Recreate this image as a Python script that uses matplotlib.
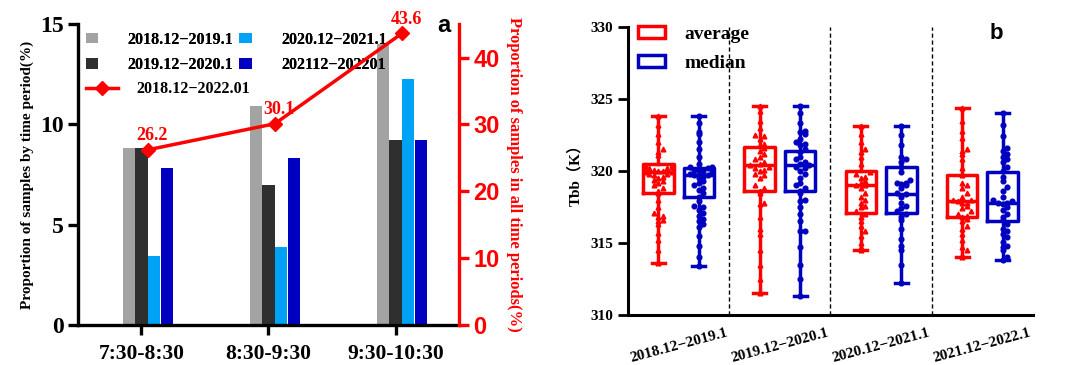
import numpy as np
import matplotlib
matplotlib.use("Agg")
import matplotlib.pyplot as plt
from matplotlib.patches import Patch
from matplotlib.lines import Line2D

plt.rcParams['font.family'] = ['Liberation Serif', 'Noto Sans CJK SC']
plt.rcParams['font.weight'] = 'bold'
plt.rcParams['axes.labelweight'] = 'bold'

# ---- panel a data ----
periods = ['7:30-8:30', '8:30-9:30', '9:30-10:30']
bar_names = ['2018.12−2019.1', '2019.12−2020.1', '2020.12−2021.1', '202112−202201']
p_1819 = [8.8, 10.9, 14.0]
p_1920 = [8.8, 7.0, 9.2]
p_2021 = [3.45, 3.9, 12.25]
p_2122 = [7.85, 8.3, 9.2]
all_name = '2018.12−2022.01'
all_periods = [26.2, 30.1, 43.6]

# ---- panel b data ----
years = ['2018.12−2019.1', '2019.12−2020.1', '2020.12−2021.1', '2021.12−2022.1']
# box stats: min, q1, median, q3, max
avg_min = [313.6, 311.5, 314.5, 314.0]
avg_q1 = [318.5, 318.6, 317.1, 316.8]
avg_med = [319.9, 320.4, 319.0, 317.9]
avg_q3 = [320.5, 321.7, 320.0, 319.7]
avg_max = [323.8, 324.5, 323.1, 324.4]
med_min = [313.4, 311.3, 312.2, 313.8]
med_q1 = [318.2, 318.6, 317.1, 316.5]
med_med = [319.7, 320.4, 318.4, 317.8]
med_q3 = [320.2, 321.4, 320.3, 319.9]
med_max = [323.8, 324.5, 323.1, 324.0]

avg_pts = [
    [323.8, 323.2, 322.6, 322.0, 321.5, 321.3, 321.1, 320.4, 320.4, 320.3, 320.3, 320.2, 320.2, 320.1,
     320.0, 320.0, 319.9, 319.9, 319.8, 319.8, 319.7, 319.6, 319.5, 319.4, 319.3, 319.2, 319.0, 318.8,
     318.6, 318.5, 318.0, 317.5, 317.1, 316.9, 316.8, 316.6, 316.5, 316.3, 315.7, 315.2, 314.5, 313.6],
    [324.5, 324.2, 323.5, 323.0, 322.5, 322.4, 322.2, 321.9, 321.8, 321.6, 321.4, 321.2, 321.0, 320.8,
     320.6, 320.5, 320.4, 320.3, 320.2, 320.1, 320.0, 319.8, 319.7, 319.5, 319.0, 318.8, 318.6, 318.5,
     317.8, 317.7, 316.8, 316.0, 315.6, 314.5, 313.5, 312.5, 311.5],
    [323.1, 322.6, 322.0, 321.5, 321.3, 321.0, 320.5, 319.9, 319.8, 319.6, 319.5, 319.3, 319.2, 319.0,
     319.0, 318.8, 318.5, 318.2, 318.0, 317.8, 317.6, 317.5, 317.2, 317.0, 316.8, 316.5, 316.2, 315.8,
     315.5, 315.0, 314.7, 314.5],
    [324.4, 323.5, 322.8, 322.3, 321.5, 321.4, 321.2, 320.8, 320.2, 319.7, 319.2, 319.0, 318.8, 318.5,
     318.2, 318.0, 318.0, 317.9, 317.8, 317.8, 317.6, 317.4, 317.2, 317.0, 316.9, 316.8, 316.7, 316.5,
     316.2, 316.0, 315.6, 315.2, 314.7, 314.5, 314.2, 314.0],
]
med_pts = [
    [323.8, 323.3, 322.7, 322.6, 322.0, 321.5, 321.0, 320.5, 320.3, 320.3, 320.2, 320.1, 320.0, 320.0,
     319.9, 319.8, 319.7, 319.7, 319.6, 319.5, 319.3, 319.2, 319.0, 318.8, 318.7, 318.5, 318.2, 317.9,
     317.6, 317.5, 317.3, 317.1, 316.9, 316.7, 316.5, 316.3, 316.1, 315.5, 314.8, 314.0, 313.4],
    [324.5, 324.0, 323.3, 322.8, 322.7, 322.6, 322.2, 322.0, 321.9, 321.8, 321.5, 321.3, 321.0, 320.8,
     320.6, 320.5, 320.4, 320.3, 320.2, 320.0, 319.8, 319.5, 319.2, 319.0, 318.8, 318.6, 318.5, 318.0,
     317.9, 317.5, 317.0, 316.5, 315.8, 315.8, 314.7, 313.5, 312.5, 311.3],
    [323.1, 322.5, 321.8, 321.0, 320.8, 320.6, 320.3, 319.9, 319.4, 319.2, 319.2, 319.1, 319.0, 318.8,
     318.5, 318.4, 318.2, 317.8, 317.6, 317.4, 317.2, 317.0, 316.8, 316.6, 316.0, 315.3, 314.8, 314.5,
     313.5, 312.2],
    [324.0, 323.2, 322.4, 321.6, 321.4, 321.2, 321.0, 320.8, 320.6, 320.3, 320.0, 319.6, 319.3, 318.9,
     318.6, 318.2, 318.0, 317.9, 317.8, 317.8, 317.7, 317.5, 317.3, 317.0, 316.8, 316.6, 316.3, 316.0,
     315.8, 315.6, 315.4, 315.1, 314.8, 314.7, 314.5, 314.0, 313.8],
]

bar_colors = ['#a3a3a3', '#2f2f2f', '#00a2f5', '#0000c0']
RED = '#ff0000'
BLUE = '#0000c0'


def spread(vals, step=0.045, lim=0.13, binsize=0.45):
    # spread points that share a value band side by side (prism-like scatter)
    vals = np.asarray(vals)
    offs = np.zeros(len(vals))
    counts = {}
    for i in np.argsort(vals):
        b = np.floor(vals[i] / binsize)
        n = counts.get(b, 0)
        counts[b] = n + 1
        k = (n + 1) // 2 * (1 if n % 2 else -1)
        offs[i] = np.clip(k * step, -lim, lim)
    return offs


fig = plt.figure(figsize=(10.68, 3.65), dpi=100)

# ================= panel a =================
ax = fig.add_axes([0.073, 0.1096, 0.3568, 0.8244])
x = np.arange(len(periods))
w = 0.095
series = [p_1819, p_1920, p_2021, p_2122]
for j, vals in enumerate(series):
    ax.bar(x + 0.05 + (j - 1.5) * 0.1, vals, width=w, color=bar_colors[j], label=bar_names[j], zorder=2)

ax.set_xlim(-0.5, 2.5)
ax.set_ylim(0, 15)
ax.set_yticks([0, 5, 10, 15])
ax.set_xticks(x)
ax.set_xticklabels(periods, fontsize=15.5)
ax.tick_params(axis='y', labelsize=17, length=7, width=2.4, direction='out')
ax.tick_params(axis='x', length=7, width=2.4, direction='out', pad=7)
for s in ['left', 'bottom']:
    ax.spines[s].set_linewidth(2.4)
ax.spines['top'].set_visible(False)
ax.spines['right'].set_visible(False)
ax.set_ylabel('Proportion of samples by time period(%)', fontsize=11, labelpad=4)

leg1 = ax.legend(loc='upper left', bbox_to_anchor=(0.02, 0.975), ncol=2, frameon=False, fontsize=11.5,
                 handlelength=0.8, handleheight=0.6, handletextpad=1.8, columnspacing=0.4,
                 labelspacing=0.6, borderpad=0, borderaxespad=0)
ax.add_artist(leg1)

ax2 = ax.twinx()
ax2.plot(x + 0.05, all_periods, color=RED, lw=2.5, marker='D', ms=7, zorder=5)
for xi, v in zip(x + 0.05, all_periods):
    ax2.annotate(f'{v}', (xi, v), xytext=(3, 4), textcoords='offset points', ha='center', va='bottom',
                 color=RED, fontsize=13, fontweight='bold')
ax2.set_ylim(0, 45)
ax2.set_yticks([0, 10, 20, 30, 40])
ax2.tick_params(axis='y', colors=RED, labelsize=17, length=7, width=2.4, direction='out')
for t in ax2.get_yticklabels():
    t.set_fontfamily('Liberation Sans')
    t.set_fontweight('bold')
ax2.spines['right'].set_color(RED)
ax2.spines['right'].set_linewidth(2.4)
for s in ['top', 'left', 'bottom']:
    ax2.spines[s].set_visible(False)
ax2.set_ylabel('Proportion of samples in all time periods(%)', color=RED, fontsize=12, rotation=270,
               labelpad=16)
line_handle = Line2D([], [], color=RED, lw=2.5, marker='D', ms=7)
ax2.legend([line_handle], [all_name], loc='upper left', bbox_to_anchor=(0.02, 0.81), frameon=False,
           fontsize=11.5, handlelength=2.0, handletextpad=1.2, borderpad=0, borderaxespad=0)
ax.text(0.96, 0.995, 'a', transform=ax.transAxes, ha='center', va='center', fontsize=17,
        fontweight='bold', family='Liberation Sans')

# ================= panel b =================
bx = fig.add_axes([0.588, 0.137, 0.3792, 0.789])
pos = np.arange(len(years))


def stats_of(lo, q1, md, q3, hi):
    return [dict(whislo=lo[i], q1=q1[i], med=md[i], q3=q3[i], whishi=hi[i], fliers=[]) for i in range(len(lo))]


for st, off, col, pts, mk in [
    (stats_of(avg_min, avg_q1, avg_med, avg_q3, avg_max), 0.3, RED, avg_pts, '^'),
    (stats_of(med_min, med_q1, med_med, med_q3, med_max), 0.7, BLUE, med_pts, 'o'),
]:
    lp = dict(color=col, linewidth=2.5)
    bx.bxp(st, positions=pos + off, widths=0.3, showfliers=False, manage_ticks=False, capwidths=0.13,
           boxprops=lp, whiskerprops=lp, capprops=lp, medianprops=lp)
    for i, p in enumerate(pts):
        bx.plot(pos[i] + off + spread(p), p, linestyle='none', marker=mk, color=col, ms=3.4, zorder=4)

for k in [1, 2, 3]:
    bx.axvline(k, color='black', lw=1, ls=(0, (3, 2)), zorder=1)

bx.set_xlim(0, 4)
bx.set_ylim(310, 330)
bx.set_yticks([310, 315, 320, 325, 330])
bx.set_xticks(pos + 0.5)
bx.set_xticklabels(years, rotation=15, fontsize=11, ha='center')
bx.tick_params(axis='x', length=0, pad=8)
bx.tick_params(axis='y', labelsize=11, length=7, width=2, direction='out')
for s in ['left', 'bottom']:
    bx.spines[s].set_linewidth(2.2)
bx.spines['top'].set_visible(False)
bx.spines['right'].set_visible(False)
bx.set_ylabel('Tbb（K）', fontsize=11, labelpad=6)

handles = [Patch(facecolor='white', edgecolor=RED, linewidth=2.5),
           Patch(facecolor='white', edgecolor=BLUE, linewidth=2.5)]
bx.legend(handles, ['average', 'median'], loc='upper left', bbox_to_anchor=(0.025, 1.005), frameon=False,
          fontsize=14, handlelength=1.4, handleheight=0.55, handletextpad=1.0, labelspacing=0.65,
          borderpad=0, borderaxespad=0)
bx.text(0.909, 0.979, 'b', transform=bx.transAxes, ha='center', va='center', fontsize=16,
        fontweight='bold', family='Liberation Sans')

fig.savefig('out.png', dpi=100)
